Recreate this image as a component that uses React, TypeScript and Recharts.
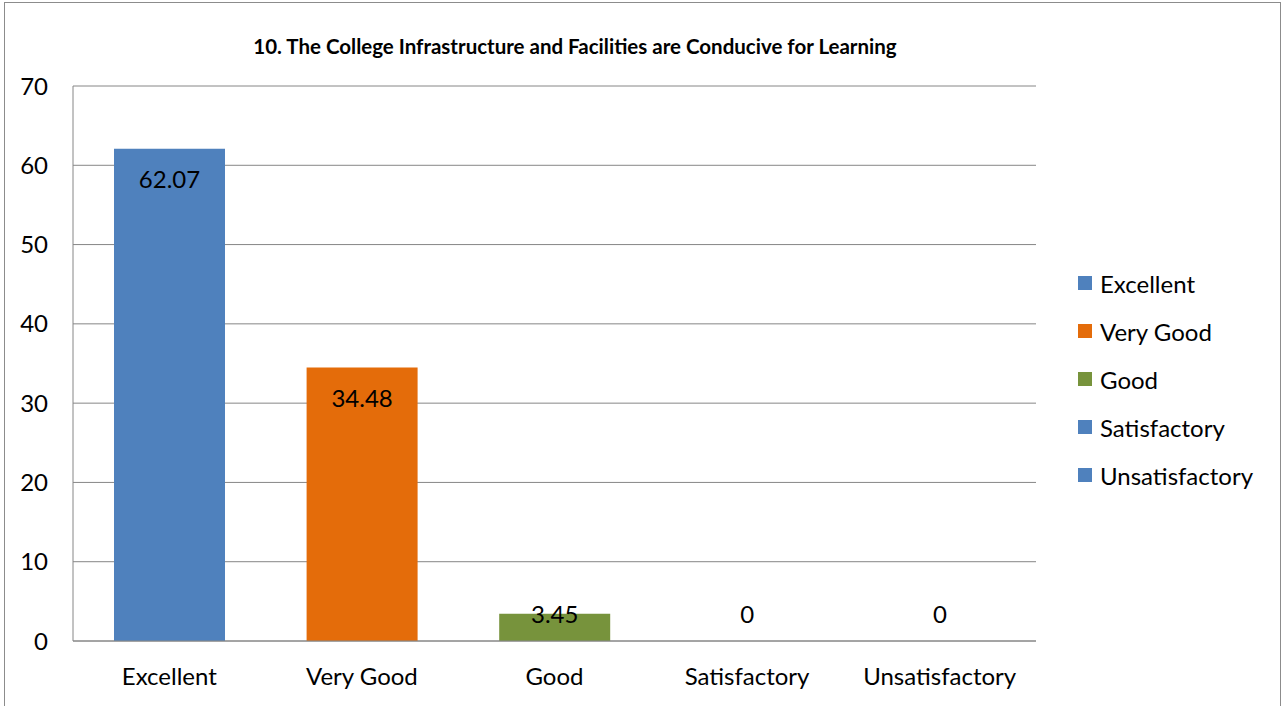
import { Bar, BarChart, CartesianGrid, Cell, LabelList, Legend, XAxis, YAxis } from "recharts";

const categories = ["Excellent", "Very Good", "Good", "Satisfactory", "Unsatisfactory"];
const percentages = [62.07, 34.48, 3.45, 0, 0];
const barColors = ["#4F81BD", "#E46C0A", "#77933C", "#4F81BD", "#4F81BD"];
const yTicks = [0, 10, 20, 30, 40, 50, 60, 70];
const title = "10. The College Infrastructure and Facilities are Conducive for Learning";

const FONT = "Lato, 'Open Sans', sans-serif";
const GRID = "#868686";

const data = categories.map((name, i) => ({ name, value: percentages[i] }));

// Excel-style "inside end" label; short bars get the label pushed up above the baseline
function ValueLabel(props: any) {
  const { x, y, width, height, value } = props;
  const h = Math.abs(Number(height) || 0);
  const top = Math.min(Number(y), Number(y) + Number(height || 0));
  const base = top + h;
  const cy = h >= 60 ? top + 30 : base - 28;
  return (
    <text
      x={Number(x) + Number(width) / 2}
      y={cy}
      textAnchor="middle"
      dominantBaseline="central"
      fontSize={24}
      fontFamily={FONT}
      fill="#000"
    >
      {value}
    </text>
  );
}

function LegendBox() {
  return (
    <div style={{ fontFamily: FONT, fontSize: 24, color: "#000" }}>
      {categories.map((c, i) => (
        <div key={c} style={{ height: 48, display: "flex", alignItems: "center" }}>
          <span style={{ width: 14, height: 14, background: barColors[i], marginRight: 8, display: "inline-block" }} />
          <span>{c}</span>
        </div>
      ))}
    </div>
  );
}

export default function App() {
  return (
    <div style={{ position: "absolute", left: 0, top: 0, width: 1283, height: 706, background: "#fff", overflow: "hidden" }}>
      <div
        style={{
          position: "absolute",
          left: 4,
          top: 2,
          width: 1277,
          height: 720,
          border: "1px solid #8c8c8c",
          boxSizing: "border-box",
        }}
      />
      <div
        style={{
          position: "absolute",
          left: 575,
          top: 46,
          transform: "translate(-50%, -50%)",
          whiteSpace: "nowrap",
          fontFamily: FONT,
          fontWeight: 700,
          fontSize: 20.5,
          color: "#000",
        }}
      >
        {title}
      </div>
      <BarChart
        width={1283}
        height={706}
        data={data}
        margin={{ top: 86, right: 247, bottom: 35, left: 0 }}
        barCategoryGap={41}
        style={{ position: "absolute", left: 0, top: 0 }}
      >
        <CartesianGrid vertical={false} stroke={GRID} strokeWidth={1} />
        <XAxis
          dataKey="name"
          height={30}
          stroke={GRID}
          tickLine={false}
          tickSize={0}
          tickMargin={27}
          tick={{ fontSize: 24, fontFamily: FONT, fill: "#000" }}
          interval={0}
        />
        <YAxis
          width={73}
          domain={[0, 70]}
          ticks={yTicks}
          stroke={GRID}
          tickLine={false}
          tickSize={0}
          tickMargin={25}
          tick={{ fontSize: 24, fontFamily: FONT, fill: "#000" }}
          interval={0}
        />
        <Legend
          layout="vertical"
          align="center"
          verticalAlign="middle"
          content={<LegendBox />}
          wrapperStyle={{ left: 1078, top: 259, width: 200 }}
        />
        <Bar dataKey="value" minPointSize={0.01} isAnimationActive={false}>
          {data.map((d, i) => (
            <Cell key={d.name} fill={barColors[i]} />
          ))}
          <LabelList dataKey="value" content={<ValueLabel />} />
        </Bar>
      </BarChart>
    </div>
  );
}
